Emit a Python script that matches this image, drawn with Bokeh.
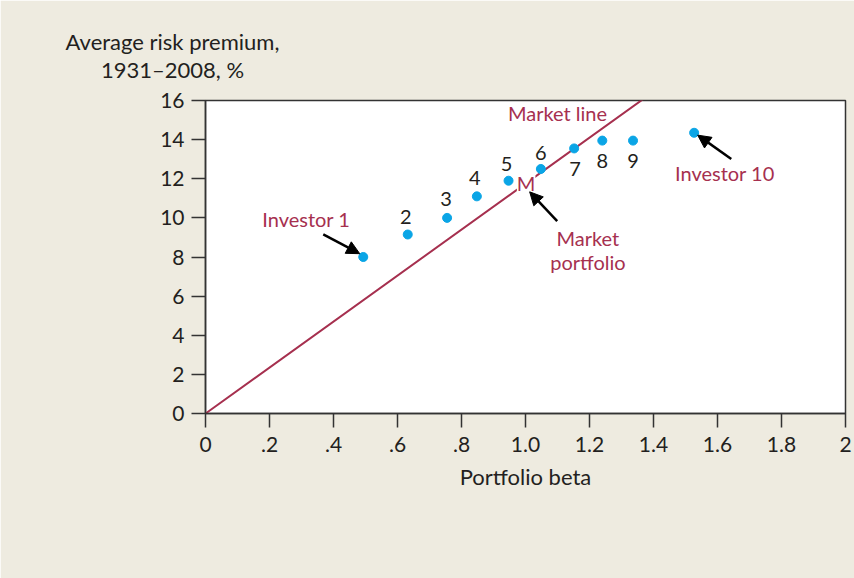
from bokeh.plotting import figure
from bokeh.models import Range1d, FixedTicker, Arrow, NormalHead, Label, ColumnDataSource
from bokeh.core.properties import value
from bokeh.embed import file_html
from bokeh.resources import INLINE

# ---- data ----
investor_labels = ["1", "2", "3", "4", "5", "6", "7", "8", "9", "10"]
portfolio_beta = [0.493, 0.632, 0.755, 0.848, 0.947, 1.048, 1.152, 1.240, 1.336, 1.527]
risk_premium = [8.0, 9.15, 10.0, 11.1, 11.9, 12.5, 13.55, 13.95, 13.95, 14.35]

market_line_beta = [0.0, 1.0, 2.0]
market_line_premium = [0.0, 11.75, 23.5]

x_ticks = [0, 0.2, 0.4, 0.6, 0.8, 1.0, 1.2, 1.4, 1.6, 1.8, 2.0]
x_tick_labels = ["0", ".2", ".4", ".6", ".8", "1.0", "1.2", "1.4", "1.6", "1.8", "2"]
y_ticks = [0, 2, 4, 6, 8, 10, 12, 14, 16]

# ---- styling ----
FONT = "Lato"
RED = "#a6304f"
BLUE = "#0aa5e6"
INK = "#231f20"
BG = "#eeebe0"

p = figure(width=854, height=578, x_range=Range1d(0, 2), y_range=Range1d(0, 16),
           output_backend="svg", toolbar_location=None,
           min_border_left=205, min_border_right=9, min_border_top=100, min_border_bottom=165)
p.background_fill_color = "white"
p.border_fill_color = BG
p.outline_line_color = "#333333"
p.outline_line_width = 1.5
p.xgrid.visible = False
p.ygrid.visible = False

for ax in (p.xaxis[0], p.yaxis[0]):
    ax.axis_line_color = "#333333"
    ax.axis_line_width = 1.5
    ax.major_tick_line_color = "#333333"
    ax.major_tick_line_width = 1.5
    ax.major_tick_in = 0
    ax.major_tick_out = 14
    ax.minor_tick_line_color = None
    ax.major_label_text_font = FONT
    ax.major_label_text_font_size = "21px"
    ax.major_label_text_color = INK

p.xaxis.ticker = FixedTicker(ticks=x_ticks)
p.xaxis.major_label_overrides = {t: l for t, l in zip(x_ticks, x_tick_labels)}
p.xaxis.major_label_standoff = 9
p.yaxis.ticker = FixedTicker(ticks=y_ticks)
p.yaxis.major_label_standoff = 7

p.xaxis.axis_label = "Portfolio beta"
p.xaxis.axis_label_text_font = FONT
p.xaxis.axis_label_text_font_size = "22px"
p.xaxis.axis_label_text_font_style = "normal"
p.xaxis.axis_label_text_color = INK
p.xaxis.axis_label_standoff = 8

# market line
p.line(market_line_beta, market_line_premium, line_color=RED, line_width=2)

# portfolios
p.scatter(portfolio_beta, risk_premium, size=9, fill_color=BLUE, line_color=BLUE)

# numeric labels for portfolios 2-9
num_src = ColumnDataSource(dict(
    x=portfolio_beta[1:9], y=risk_premium[1:9], text=investor_labels[1:9],
    xo=[-2, -1, -2, -2, 0, 1, 0, 0], yo=[-18, -19, -18, -17, -16, 21, 20, 20]))
p.text(x="x", y="y", text="text", x_offset="xo", y_offset="yo", source=num_src,
       text_font=value(FONT), text_font_size="20px", text_color=INK,
       text_align="center", text_baseline="middle")

# red annotations
ann_src = ColumnDataSource(dict(
    x=[0.315, 1.10, 1.195, 1.195, 1.623],
    y=[9.93, 15.38, 8.99, 7.74, 12.28],
    text=["Investor 1", "Market line", "Market", "portfolio", "Investor 10"]))
p.text(x="x", y="y", text="text", source=ann_src,
       text_font=value(FONT), text_font_size="20px", text_color=RED,
       text_align="center", text_baseline="middle")

# "M" marks the market portfolio on the line (knocked out of the line)
p.add_layout(Label(x=1.002, y=11.79, text="M", text_font=FONT, text_font_size="20px",
                   text_color=RED, text_align="center", text_baseline="middle",
                   background_fill_color="white"))

# arrows
arrow_src = ColumnDataSource(dict(
    x0=[0.368, 1.099, 1.643], y0=[9.16, 9.83, 13.01],
    x1=[0.482, 1.013, 1.538], y1=[8.17, 11.33, 14.23]))
p.add_layout(Arrow(end=NormalHead(size=13, fill_color="black", line_color="black"),
                   x_start="x0", y_start="y0", x_end="x1", y_end="y1",
                   source=arrow_src, line_color="black", line_width=2.5))

# y-axis title (horizontal, above the axis) in a side panel
p.add_layout(Label(x=-33, y=45, x_units="screen", y_units="screen",
                   text="Average risk premium,\n1931\u20132008, %", text_font=FONT,
                   text_font_size="22px", text_color=INK, text_align="center",
                   text_baseline="middle", text_line_height=1.02), "above")

open("out.html", "w").write(file_html(p, INLINE))
